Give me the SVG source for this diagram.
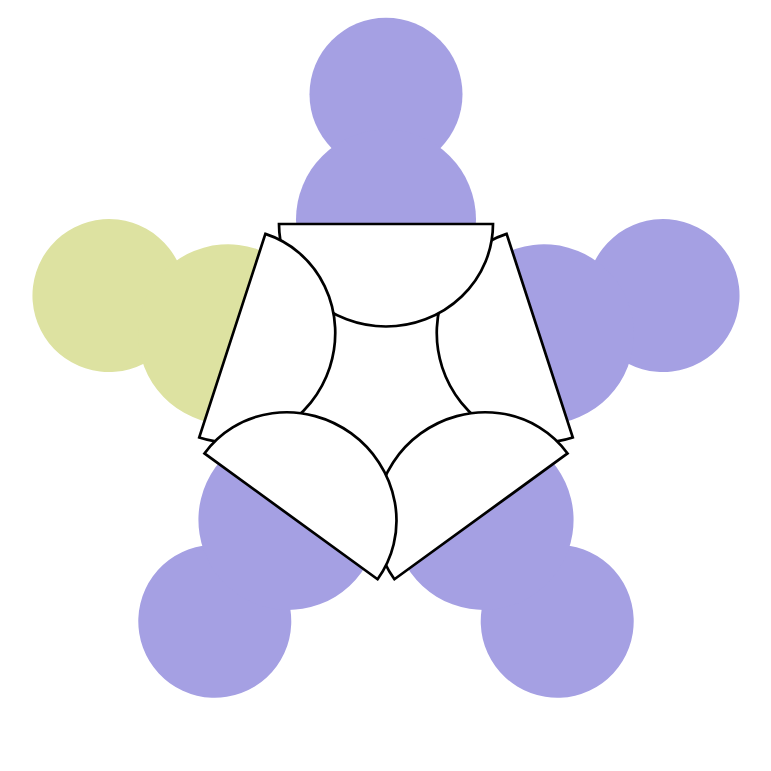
<svg xmlns="http://www.w3.org/2000/svg" xmlns:xlink="http://www.w3.org/1999/xlink" width="771" height="771" viewBox="0 0 771 771">
<style>
.p{fill:#a5a0e3}
.y{fill:#dde2a1}
.s{fill:#fff;stroke:#000;stroke-width:2.7;stroke-linejoin:miter}
</style>
<defs>
<g id="arm"><circle cx="386" cy="94.3" r="76.5"/><circle cx="386" cy="219.6" r="90"/></g>
<path id="seg" d="M279,224 L493,224 A107,102.5 0 0 1 279,224 Z"/>
</defs>
<rect width="771" height="771" fill="#fff"/>
<g id="arms">
<g id="arm-top" class="p"><use xlink:href="#arm"/></g>
<g id="arm-right" class="p"><use xlink:href="#arm" transform="rotate(72 386 385.6)"/></g>
<g id="arm-bottom-right" class="p"><use xlink:href="#arm" transform="rotate(144 386 385.6)"/></g>
<g id="arm-bottom-left" class="p"><use xlink:href="#arm" transform="rotate(216 386 385.6)"/></g>
<g id="arm-left" class="y"><use xlink:href="#arm" transform="rotate(288 386 385.6)"/></g>
</g>
<g id="shapes">
<g id="shape-right" class="s"><use xlink:href="#seg" transform="rotate(72 386 385.6)"/></g>
<g id="shape-top" class="s"><use xlink:href="#seg"/></g>
<g id="shape-left" class="s"><use xlink:href="#seg" transform="rotate(288 386 385.6)"/></g>
<g id="shape-bottom-right" class="s"><use xlink:href="#seg" transform="rotate(144 386 385.6)"/></g>
<g id="shape-bottom-left" class="s"><use xlink:href="#seg" transform="rotate(216 386 385.6)"/></g>
</g>
</svg>
